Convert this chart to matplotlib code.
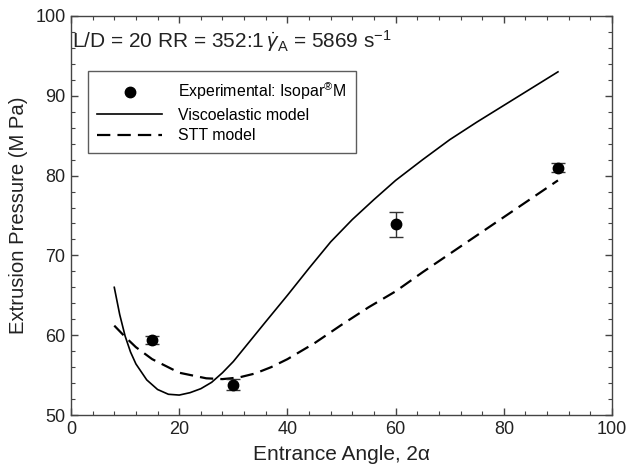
import matplotlib
matplotlib.use('Agg')
import matplotlib.pyplot as plt
from matplotlib.ticker import MultipleLocator

plt.rcParams['font.family'] = ['Liberation Sans', 'DejaVu Sans']
plt.rcParams['mathtext.fontset'] = 'custom'
plt.rcParams['mathtext.rm'] = 'Liberation Sans'
plt.rcParams['mathtext.it'] = 'Liberation Sans:italic'

# experimental points
exp_angle = [15, 30, 60, 90]
exp_pressure = [59.4, 53.8, 73.9, 81.0]
exp_err = [0.5, 0.7, 1.6, 0.6]

# viscoelastic model
visco_angle = [8, 9, 10, 11, 12, 14, 16, 18, 20, 22, 24, 26, 28, 30, 33, 36, 40,
               44, 48, 52, 56, 60, 65, 70, 75, 80, 85, 90]
visco_pressure = [66.0, 62.6, 59.9, 57.9, 56.4, 54.4, 53.2, 52.6, 52.5, 52.8, 53.3,
                  54.1, 55.3, 56.7, 59.2, 61.7, 65.0, 68.4, 71.7, 74.5, 77.0, 79.4,
                  82.0, 84.5, 86.7, 88.8, 90.9, 93.0]

# STT model
stt_angle = [8, 10, 12, 15, 20, 25, 28, 31, 34, 37, 40, 45, 50, 55, 60, 65, 70,
             75, 80, 85, 90]
stt_pressure = [61.2, 59.8, 58.5, 57.0, 55.3, 54.6, 54.5, 54.7, 55.2, 56.0, 57.0,
                59.0, 61.3, 63.5, 65.5, 67.9, 70.2, 72.5, 74.8, 77.1, 79.4]

fig = plt.figure(figsize=(6.31, 4.66), dpi=100)
ax = fig.add_axes([0.1125, 0.1094, 0.8575, 0.8563])

visco, = ax.plot(visco_angle, visco_pressure, color='black', lw=1.2)
stt, = ax.plot(stt_angle, stt_pressure, color='black', lw=1.6, dashes=(6, 3.2))
exp = ax.errorbar(exp_angle, exp_pressure, yerr=exp_err, fmt='o', color='black', ms=7.5,
                  ecolor='#333333', elinewidth=1.0, capsize=5, capthick=1.0)

ax.set_xlim(0, 100)
ax.set_ylim(50, 100)
ax.xaxis.set_major_locator(MultipleLocator(20))
ax.xaxis.set_minor_locator(MultipleLocator(4))
ax.yaxis.set_major_locator(MultipleLocator(10))
ax.yaxis.set_minor_locator(MultipleLocator(2))
ax.tick_params(which='both', direction='in', top=True, right=True, color='#444444')
ax.tick_params(which='major', length=5, width=1, labelsize=13, labelcolor='#222222', pad=4)
ax.tick_params(which='minor', length=3, width=0.8)
for s in ax.spines.values():
    s.set_color('#444444')
    s.set_linewidth(1.0)

ax.set_xlabel('Entrance Angle, 2\u03b1', fontsize=15, color='#222222', labelpad=5)
ax.set_ylabel('Extrusion Pressure (M Pa)', fontsize=14.6, color='#222222', labelpad=5)

ax.text(0.2, 96.8, r'L/D = 20 RR = 352:1$\,\dot{\gamma}_{\mathrm{A}}$ = 5869 s$^{-1}$',
        fontsize=15, color='#222222', va='center', ha='left')

leg = ax.legend([exp[0], visco, stt],
                ['Experimental: Isopar$^{\\circledR}$M', 'Viscoelastic model', 'STT model'],
                loc='upper left', bbox_to_anchor=(0.031, 0.862), fontsize=11.4,
                frameon=True, fancybox=False, edgecolor='#333333', handlelength=4.1,
                borderpad=0.6, labelspacing=0.35, borderaxespad=0, handletextpad=1.0)
leg.get_frame().set_linewidth(1.0)

fig.savefig('out.png', dpi=100)
